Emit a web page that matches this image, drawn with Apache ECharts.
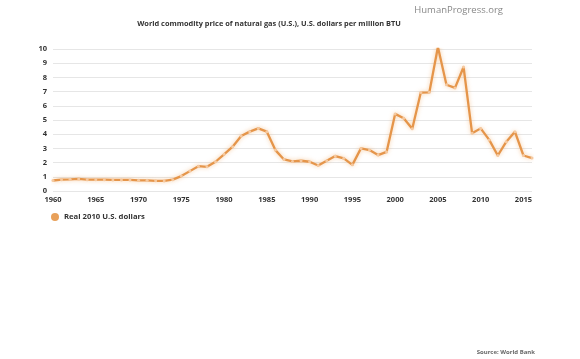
<!DOCTYPE html>
<html>
<head>
<meta charset="utf-8">
<script src="https://cdn.jsdelivr.net/npm/echarts@6/dist/echarts.min.js"></script>
<style>html,body{margin:0;padding:0;background:#fff}#c{width:580px;height:359px}</style>
</head>
<body>
<div id="c"></div>
<script>
var years = [1960,1961,1962,1963,1964,1965,1966,1967,1968,1969,1970,1971,1972,1973,1974,1975,1976,1977,1978,1979,1980,1981,1982,1983,1984,1985,1986,1987,1988,1989,1990,1991,1992,1993,1994,1995,1996,1997,1998,1999,2000,2001,2002,2003,2004,2005,2006,2007,2008,2009,2010,2011,2012,2013,2014,2015,2016];
var values = [0.74,0.8,0.82,0.85,0.8,0.8,0.8,0.78,0.78,0.78,0.75,0.75,0.72,0.71,0.8,1.05,1.4,1.75,1.7,2.06,2.58,3.12,3.87,4.18,4.41,4.18,2.88,2.22,2.08,2.13,2.06,1.8,2.13,2.46,2.3,1.84,3.0,2.88,2.53,2.75,5.43,5.12,4.38,6.93,6.95,10.14,7.48,7.26,8.73,4.06,4.41,3.6,2.5,3.47,4.18,2.5,2.32];
var yTicks = [0,1,2,3,4,5,6,7,8,9,10];
var xTicks = [1960,1965,1970,1975,1980,1985,1990,1995,2000,2005,2010,2015];
var seriesName = 'Real 2010 U.S. dollars';

var chart = echarts.init(document.getElementById('c'), null, {renderer:'canvas'});
var F = '"Open Sans", sans-serif';
chart.setOption({
  animation:false,
  backgroundColor:'#fff',
  title:[
    {text:'World commodity price of natural gas (U.S.), U.S. dollars per million BTU', left:264, top:15, textAlign:'center',
      textStyle:{fontFamily:F, fontSize:7.4, fontWeight:'bold', color:'#333'}},
    {text:'HumanProgress.org', right:72, top:0, textStyle:{fontFamily:F, fontSize:9.5, fontWeight:'normal', color:'#888'}},
    {text:'Source: World Bank', right:40, top:344, textStyle:{fontFamily:F, fontSize:6, fontWeight:'bold', color:'#666'}}
  ],
  legend:{left:46, top:208, itemWidth:8, itemHeight:8, icon:'circle', itemGap:6,
    textStyle:{fontFamily:F, fontSize:7.7, fontWeight:'bold', color:'#333'},
    data:[seriesName]},
  grid:{left:53, right:48, top:49, bottom:168, containLabel:false},
  xAxis:{type:'value', min:1960, max:2016, interval:5,
    axisLine:{show:false}, axisTick:{show:false}, splitLine:{show:false},
    axisLabel:{fontFamily:F, fontSize:7.5, fontWeight:'bold', color:'#333', margin:5,
      customValues: xTicks, formatter:function(v){return String(v);}}},
  yAxis:{type:'value', min:0, max:10, interval:1,
    axisLine:{show:false}, axisTick:{show:false},
    splitLine:{lineStyle:{color:'#e6e6e6', width:1}},
    axisLabel:{fontFamily:F, fontSize:7.5, fontWeight:'bold', color:'#333', margin:6,
      formatter:function(v){return yTicks.indexOf(v)>=0 ? String(v) : '';}}},
  series:[{
    name:seriesName, type:'line',
    data: years.map(function(y,i){return [y, values[i]];}),
    symbol:'circle', symbolSize:3, showSymbol:true,
    itemStyle:{color:'#f5c9a0', borderWidth:0},
    lineStyle:{color:'#e5954a', width:2.3, shadowColor:'rgba(240,170,100,0.6)', shadowBlur:4},
    emphasis:{disabled:true}
  }]
});
chart.setOption({legend:{data:[{name:seriesName, itemStyle:{color:'#e8a05a'}}]}});
</script>
</body>
</html>
